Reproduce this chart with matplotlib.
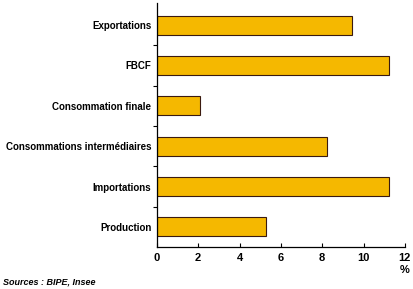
import matplotlib.pyplot as plt
from matplotlib.ticker import FixedLocator

# Values (%)
categories = ['Production', 'Importations', 'Consommations intermédiaires',
              'Consommation finale', 'FBCF', 'Exportations']
values = [5.3, 11.25, 8.25, 2.1, 11.25, 9.45]
xticks = [0, 2, 4, 6, 8, 10, 12]

plt.rcParams['font.family'] = ['Liberation Sans', 'DejaVu Sans']
plt.rcParams['font.weight'] = 'bold'

fig = plt.figure(figsize=(4.14, 2.89), dpi=100)
ax = fig.add_axes([0.379, 0.145, 0.599, 0.845])

pos = list(range(len(categories)))
ax.barh(pos, values, height=0.47, color='#f5b800', edgecolor='#3a1a10', linewidth=0.8)

ax.set_xlim(0, 12)
ax.set_ylim(-0.5, 5.55)
ax.set_xticks(xticks)
ax.set_xticklabels([str(t) for t in xticks], fontsize=8, fontweight='bold')
ax.set_yticks(pos)
ax.set_yticklabels(categories, fontsize=7, fontweight='bold')
ax.tick_params(axis='y', length=0, pad=4)
ax.yaxis.set_minor_locator(FixedLocator([p + 0.5 for p in pos[:-1]]))
ax.tick_params(axis='y', which='minor', length=3, direction='out', width=0.8)
ax.tick_params(axis='x', length=3, direction='in', width=0.8, pad=4)

for s in ['top', 'right']:
    ax.spines[s].set_visible(False)
ax.spines['left'].set_linewidth(0.9)
ax.spines['bottom'].set_linewidth(0.9)

fig.text(405 / 414, 1 - 270 / 289, '%', ha='center', va='center', fontsize=8, fontweight='bold')
fig.text(3 / 414, 1 - 282 / 289, 'Sources : BIPE, Insee', ha='left', va='center',
         fontsize=6.5, fontweight='bold', style='italic')

fig.savefig('out.png', dpi=100)
